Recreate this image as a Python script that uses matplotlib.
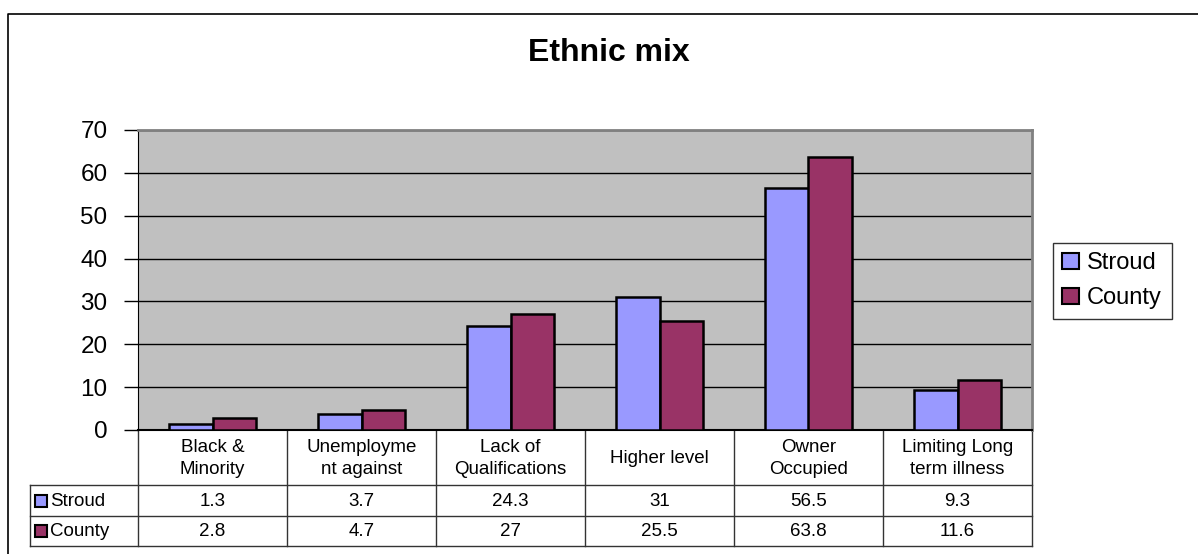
import matplotlib
matplotlib.use('Agg')
import matplotlib.pyplot as plt
from matplotlib.patches import Rectangle
import numpy as np

# --- Data ---
categories = ['Black &\nMinority', 'Unemployme\nnt against', 'Lack of\nQualifications',
              'Higher level', 'Owner\nOccupied', 'Limiting Long\nterm illness']
stroud = [1.3, 3.7, 24.3, 31, 56.5, 9.3]
county = [2.8, 4.7, 27, 25.5, 63.8, 11.6]
series_names = ['Stroud', 'County']
stroud_labels = ['1.3', '3.7', '24.3', '31', '56.5', '9.3']
county_labels = ['2.8', '4.7', '27', '25.5', '63.8', '11.6']
y_ticks = [0, 10, 20, 30, 40, 50, 60, 70]

# --- Style ---
STROUD_COLOR = '#9999FF'
COUNTY_COLOR = '#993366'
PLOT_BG = '#C0C0C0'
FONT = 'Liberation Sans'

W, H = 1198, 554
fig = plt.figure(figsize=(W / 100, H / 100), dpi=100)
fig.patch.set_facecolor('white')

# overlay in pixel coordinates for border and data table
ov = fig.add_axes([0, 0, 1, 1], zorder=0)
ov.set_xlim(0, W)
ov.set_ylim(H, 0)
ov.axis('off')

# plot area
left, right, top, bottom = 138, 1032, 130, 430
ax = fig.add_axes([left / W, 1 - bottom / H, (right - left) / W, (bottom - top) / H], zorder=1)
ax.set_facecolor(PLOT_BG)

x = np.arange(len(categories))
bw = 0.29
ax.bar(x - bw / 2, stroud, bw, color=STROUD_COLOR, edgecolor='black', linewidth=1.8, zorder=3)
ax.bar(x + bw / 2, county, bw, color=COUNTY_COLOR, edgecolor='black', linewidth=1.8, zorder=3)

ax.set_xlim(-0.5, len(categories) - 0.5)
ax.set_ylim(0, 70)
ax.set_yticks(y_ticks)
ax.set_yticklabels([str(t) for t in y_ticks], fontsize=17.5, family=FONT)
ax.tick_params(axis='y', direction='out', length=10, width=1, pad=12)
ax.set_xticks([])
ax.yaxis.grid(True, color='black', linewidth=1)
ax.set_axisbelow(True)
for s in ['top', 'right']:
    ax.spines[s].set_color('#808080')
    ax.spines[s].set_linewidth(2)
ax.spines['left'].set_color('black')
ax.spines['bottom'].set_color('black')
ax.spines['bottom'].set_linewidth(1.5)

# title
fig.text(609 / W, 1 - 53 / H, 'Ethnic mix', ha='center', va='center',
         fontsize=23, fontweight='bold', family=FONT)

# outer border (right and bottom edges run off the image)
ov.plot([8, 8, W + 5], [H + 5, 14, 14], color='black', linewidth=1.2)

# legend
handles = [Rectangle((0, 0), 1, 1, facecolor=STROUD_COLOR, edgecolor='black', linewidth=1.5),
           Rectangle((0, 0), 1, 1, facecolor=COUNTY_COLOR, edgecolor='black', linewidth=1.5)]
leg = fig.legend(handles, series_names, loc='upper left',
                 bbox_to_anchor=(1053 / W, 1 - 243 / H), frameon=True, fancybox=False,
                 prop={'family': FONT, 'size': 17}, handlelength=0.7, handleheight=0.7,
                 handletextpad=0.35, labelspacing=0.55, borderpad=0.4, borderaxespad=0)
leg.get_frame().set_edgecolor('black')
leg.get_frame().set_linewidth(1)

# data table
tab_left = 30
row_y = [430, 485, 516, 546]
col_w = (right - left) / len(categories)
col_x = [left + i * col_w for i in range(len(categories) + 1)]
lw = 1
for cx in col_x:
    ov.plot([cx, cx], [row_y[0], row_y[-1]], color='#333333', linewidth=lw)
ov.plot([tab_left, tab_left], [row_y[1], row_y[-1]], color='#333333', linewidth=lw)
for ry in row_y[1:]:
    ov.plot([tab_left, right], [ry, ry], color='#333333', linewidth=lw)

for i, cat in enumerate(categories):
    cx = (col_x[i] + col_x[i + 1]) / 2
    ov.text(cx, (row_y[0] + row_y[1]) / 2 + 1, cat, ha='center', va='center',
            fontsize=13.5, family=FONT, linespacing=1.4)
    ov.text(cx, (row_y[1] + row_y[2]) / 2 + 1, stroud_labels[i], ha='center', va='center',
            fontsize=13.5, family=FONT)
    ov.text(cx, (row_y[2] + row_y[3]) / 2 + 1, county_labels[i], ha='center', va='center',
            fontsize=13.5, family=FONT)

for r, (name, col) in enumerate(zip(series_names, [STROUD_COLOR, COUNTY_COLOR])):
    cy = (row_y[r + 1] + row_y[r + 2]) / 2
    ov.add_patch(Rectangle((35, cy - 6), 12, 12, facecolor=col, edgecolor='black', linewidth=1.5))
    ov.text(50, cy + 1, name, ha='left', va='center', fontsize=13.5, family=FONT)

fig.savefig('out.png', dpi=100)
